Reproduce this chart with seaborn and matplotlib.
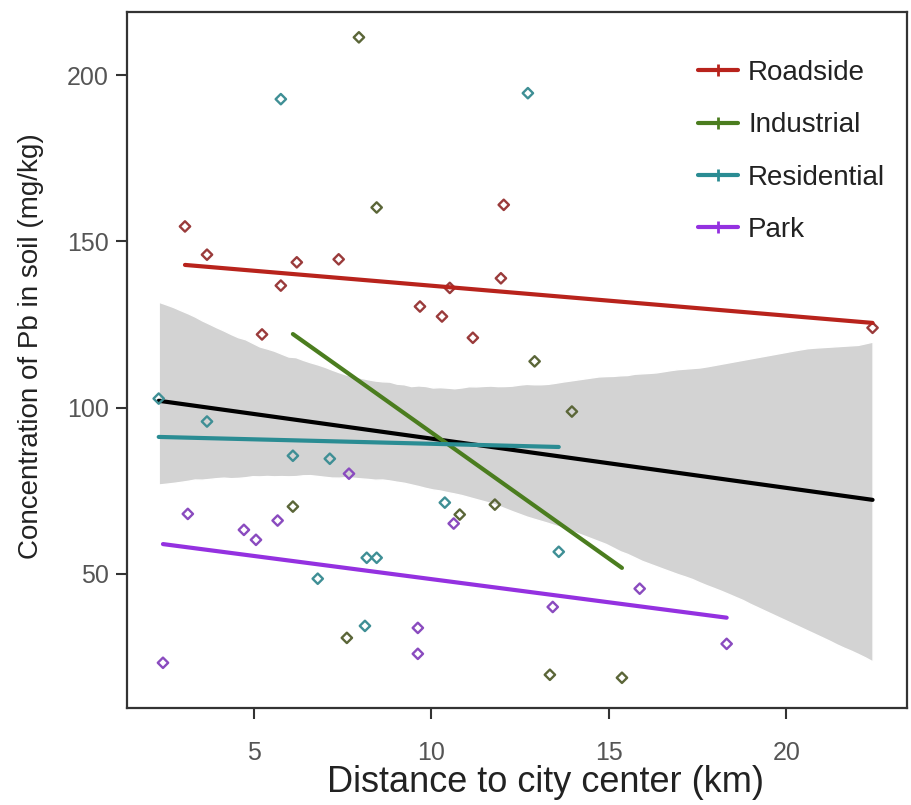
import numpy as np
import pandas as pd
import matplotlib
matplotlib.use("Agg")
import matplotlib.pyplot as plt
from matplotlib.lines import Line2D
import seaborn as sns

# ---- data ----
groups = ["Roadside", "Industrial", "Residential", "Park"]

roadside_x = [3.06, 3.68, 6.21, 7.39, 5.76, 5.23, 9.68, 10.3, 11.17, 12.04, 11.96, 10.52, 22.43]
roadside_y = [154.5, 146.0, 143.7, 144.6, 136.7, 122.0, 130.4, 127.4, 121.0, 161.0, 138.9, 136.0, 124.0]

industrial_x = [7.96, 8.46, 12.91, 7.62, 6.1, 10.8, 11.79, 13.96, 13.34, 15.37]
industrial_y = [211.4, 160.2, 113.9, 30.7, 70.2, 67.8, 70.8, 98.8, 19.6, 18.7]

residential_x = [5.76, 12.72, 2.32, 3.68, 10.38, 8.18, 8.46, 6.8, 8.13, 13.59, 6.1, 7.14]
residential_y = [192.8, 194.6, 102.7, 95.8, 71.4, 54.8, 54.8, 48.5, 34.3, 56.6, 85.5, 84.6]

park_x = [7.68, 3.14, 4.72, 5.06, 5.67, 10.63, 9.62, 9.62, 2.44, 15.87, 13.42, 18.32]
park_y = [80.1, 68.0, 63.2, 60.2, 66.0, 65.1, 33.7, 25.9, 23.2, 45.5, 40.0, 28.9]

x_ticks = [5, 10, 15, 20]
y_ticks = [50, 100, 150, 200]

line_colors = {"Roadside": "#b8231c", "Industrial": "#4b7d1f",
               "Residential": "#2a8c93", "Park": "#9431e0"}
point_colors = {"Roadside": "#9a3b3b", "Industrial": "#5b6638",
                "Residential": "#3f8f95", "Park": "#8a4bbf"}

df = pd.concat([
    pd.DataFrame({"x": roadside_x, "y": roadside_y, "g": "Roadside"}),
    pd.DataFrame({"x": industrial_x, "y": industrial_y, "g": "Industrial"}),
    pd.DataFrame({"x": residential_x, "y": residential_y, "g": "Residential"}),
    pd.DataFrame({"x": park_x, "y": park_y, "g": "Park"}),
], ignore_index=True)

# ---- figure ----
sns.set_theme(style="white")
plt.rcParams["font.family"] = ["Liberation Sans", "DejaVu Sans"]

fig = plt.figure(figsize=(9.12, 8.05), dpi=100)
ax = fig.add_axes([0.139, 0.1205, 0.8555, 0.8645])

# overall regression with CI band
sns.regplot(data=df, x="x", y="y", ax=ax, scatter=False, ci=95, truncate=True,
            seed=3, line_kws={"color": "black", "lw": 3, "zorder": 3},
            color="#b0b0b0")
for coll in ax.collections:
    coll.set_facecolor("#d3d3d3")
    coll.set_alpha(1)
    coll.set_zorder(1)

# group points
for g in groups:
    sub = df[df.g == g]
    sns.scatterplot(data=sub, x="x", y="y", ax=ax, marker="D", s=28,
                    facecolors="none", edgecolor=point_colors[g], linewidth=1.7,
                    zorder=4, legend=False)

# group regression lines
for g in groups:
    sub = df[df.g == g]
    sns.regplot(data=sub, x="x", y="y", ax=ax, scatter=False, ci=None, truncate=True,
                line_kws={"color": line_colors[g], "lw": 3, "zorder": 5})

ax.set_xlim(1.42, 23.4)
ax.set_ylim(9.6, 219)
ax.set_xticks(x_ticks)
ax.set_yticks(y_ticks)
ax.tick_params(axis="both", which="both", direction="out", length=8, width=1.5,
               color="#333333", labelsize=18, labelcolor="#555555",
               bottom=True, left=True, top=False, right=False)
ax.tick_params(axis="x", pad=16)
ax.tick_params(axis="y", pad=5)
for s in ax.spines.values():
    s.set_color("#333333")
    s.set_linewidth(1.6)
ax.set_xlabel("Distance to city center (km)", fontsize=26, color="#222222")
ax.xaxis.set_label_coords(0.537, -0.082)
ax.set_ylabel("Concentration of Pb in soil (mg/kg)", fontsize=20, color="#222222")
ax.yaxis.set_label_coords(-0.106, 0.52)

handles = [Line2D([0], [0], color=line_colors[g], lw=3, marker="+", markersize=9,
                  markeredgewidth=2) for g in groups]
leg = ax.legend(handles, groups, loc="upper left", bbox_to_anchor=(0.70, 0.967),
                frameon=False, fontsize=20, handlelength=1.45, labelspacing=0.95,
                handletextpad=0.36)
for t in leg.get_texts():
    t.set_color("#222222")

fig.savefig("out.png", dpi=100)
